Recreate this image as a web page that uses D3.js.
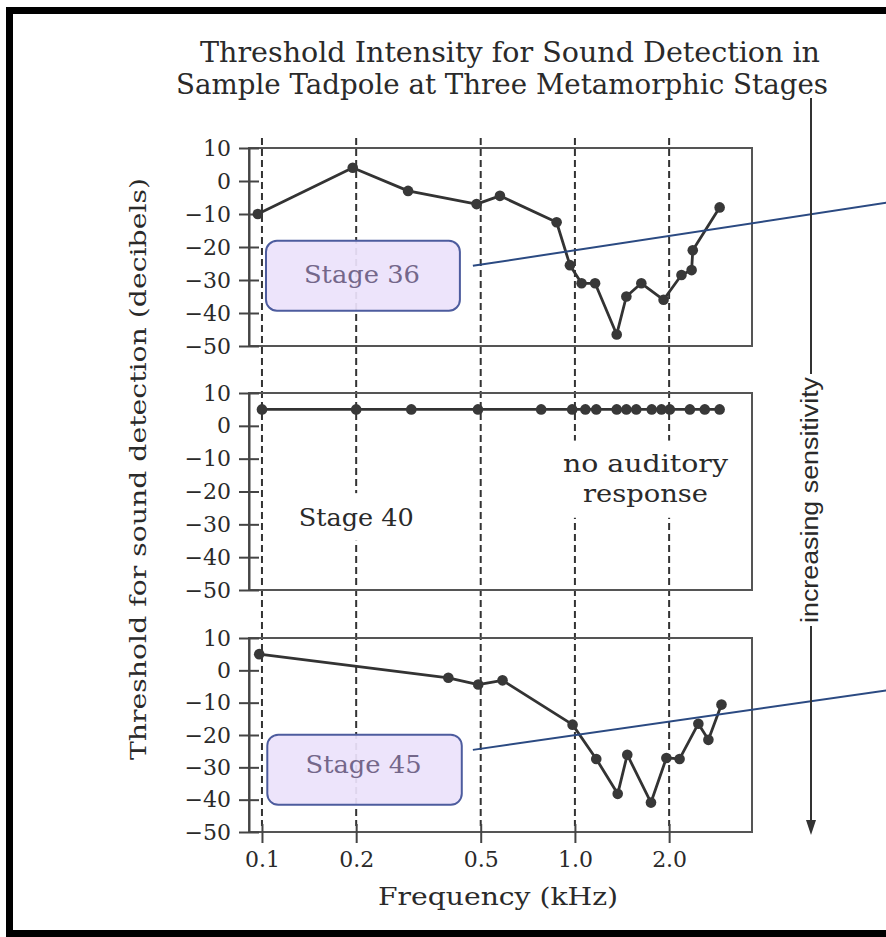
<!DOCTYPE html>
<html>
<head>
<meta charset="utf-8">
<script src="https://cdn.jsdelivr.net/npm/d3@7"></script>
<style>
  html, body { margin: 0; padding: 0; background: #fff; }
  svg { display: block; }
</style>
</head>
<body>
<script>
// ---------- data ----------
const titleLines = ["Threshold Intensity for Sound Detection in", "Sample Tadpole at Three Metamorphic Stages"];
const yAxisTitle = "Threshold for sound detection (decibels)";
const xAxisTitle = "Frequency (kHz)";
const sideLabel = "increasing sensitivity";

const xTicks = [0.1, 0.2, 0.5, 1.0, 2.0];
const xTickLabels = ["0.1", "0.2", "0.5", "1.0", "2.0"];
const yTicks = [10, 0, -10, -20, -30, -40, -50];
const yTickLabels = ["10", "0", "\u221210", "\u221220", "\u221230", "\u221240", "\u221250"];

const stageNames = ["Stage 36", "Stage 40", "Stage 45"];

const freq36 = [0.097, 0.195, 0.293, 0.485, 0.576, 0.874, 0.964, 1.05, 1.16, 1.36, 1.46, 1.63, 1.92, 2.19, 2.36, 2.38, 2.9];
const db36   = [-10, 4, -3, -7, -4.5, -12.5, -25.5, -31, -31, -46.5, -35, -31, -36, -28.5, -27, -21, -8];

const freq40 = [0.1, 0.2, 0.3, 0.49, 0.78, 0.98, 1.08, 1.17, 1.36, 1.46, 1.57, 1.76, 1.89, 2.01, 2.33, 2.6, 2.9];
const db40   = [5, 5, 5, 5, 5, 5, 5, 5, 5, 5, 5, 5, 5, 5, 5, 5, 5];

const freq45 = [0.098, 0.394, 0.491, 0.587, 0.983, 1.17, 1.37, 1.47, 1.75, 1.96, 2.16, 2.48, 2.67, 2.94];
const db45   = [5, -2.3, -4.4, -3.1, -16.8, -27.4, -38.2, -26.1, -40.9, -27.1, -27.4, -16.5, -21.5, -10.6];

const noResponseLines = ["no auditory", "response"];

// ---------- layout ----------
const W = 886, H = 937;
const serif = "'DejaVu Serif', 'Liberation Serif', serif";
const ink = "#2a2a2a";

const svg = d3.select("body").append("svg").attr("width", W).attr("height", H);
svg.append("rect").attr("width", W).attr("height", H).attr("fill", "#fff");

// outer frame (right side runs off the page)
svg.append("rect").attr("x", 9.5).attr("y", 10.5).attr("width", 900).attr("height", 923)
  .attr("fill", "none").attr("stroke", "#000").attr("stroke-width", 7);

const x = d3.scaleLog().domain([0.0909, 3.68]).range([249, 752]);
const panelRanges = [[346, 148], [590, 393], [832, 638]];
const ys = panelRanges.map(r => d3.scaleLinear().domain([-50, 10]).range(r));

function fit(sel, len) {
  sel.attr("textLength", len).attr("lengthAdjust", "spacingAndGlyphs");
  return sel;
}

// title
fit(svg.append("text").attr("x", 510).attr("y", 62).attr("text-anchor", "middle")
  .attr("font-family", serif).attr("font-size", 27).attr("fill", ink).text(titleLines[0]), 620);
fit(svg.append("text").attr("x", 502).attr("y", 94).attr("text-anchor", "middle")
  .attr("font-family", serif).attr("font-size", 27).attr("fill", ink).text(titleLines[1]), 652);

// dashed reference lines at the tick frequencies
svg.append("g").selectAll("line").data(xTicks).join("line")
  .attr("x1", d => x(d)).attr("x2", d => x(d))
  .attr("y1", 138).attr("y2", 826)
  .attr("stroke", "#333").attr("stroke-width", 2).attr("stroke-dasharray", "7,4");

// panel frames
ys.forEach(y => {
  svg.append("rect").attr("x", x.range()[0]).attr("y", y(10))
    .attr("width", x.range()[1] - x.range()[0]).attr("height", y(-50) - y(10))
    .attr("fill", "none").attr("stroke", "#555").attr("stroke-width", 2);
});

// left axes
ys.forEach(y => {
  const g = svg.append("g").attr("transform", `translate(${x.range()[0]},0)`)
    .call(d3.axisLeft(y).tickValues(yTicks).tickFormat((d, i) => yTickLabels[i])
      .tickSize(10).tickSizeOuter(0).tickPadding(8));
  g.select(".domain").attr("stroke", "#444").attr("stroke-width", 2);
  g.selectAll(".tick line").attr("x1", 10).attr("stroke", "#444").attr("stroke-width", 2);
  g.selectAll(".tick text").attr("font-family", serif).attr("font-size", 22).attr("fill", ink);
});

// bottom axis
const gx = svg.append("g").attr("transform", `translate(0,${panelRanges[2][0]})`)
  .call(d3.axisBottom(x).tickValues(xTicks).tickFormat((d, i) => xTickLabels[i])
    .tickSize(11).tickSizeOuter(0).tickPadding(8));
gx.select(".domain").remove();
gx.selectAll(".tick line").attr("y1", -8).attr("stroke", "#444").attr("stroke-width", 2);
gx.selectAll(".tick text").attr("font-family", serif).attr("font-size", 22).attr("fill", ink);

// axis titles
fit(svg.append("text").attr("transform", "translate(146,469) rotate(-90)")
  .attr("text-anchor", "middle").attr("font-family", serif).attr("font-size", 23)
  .attr("fill", ink).text(yAxisTitle), 582);
fit(svg.append("text").attr("x", 498).attr("y", 905).attr("text-anchor", "middle")
  .attr("font-family", serif).attr("font-size", 24).attr("fill", ink).text(xAxisTitle), 240);

// middle panel texts (with white backing that breaks the dashed lines)
const y2 = ys[1];
svg.append("rect").attr("x", x(0.128)).attr("y", y2(-20.5)).attr("width", x(0.44) - x(0.128))
  .attr("height", y2(-35) - y2(-20.5)).attr("fill", "#fff");
svg.append("rect").attr("x", x(0.92)).attr("y", y2(-4.5)).attr("width", x(3.3) - x(0.92))
  .attr("height", y2(-28) - y2(-4.5)).attr("fill", "#fff");
fit(svg.append("text").attr("x", x(0.2)).attr("y", y2(-30.5)).attr("text-anchor", "middle")
  .attr("font-family", serif).attr("font-size", 25).attr("fill", ink).text(stageNames[1]), 115);
fit(svg.append("text").attr("x", x(1.68)).attr("y", y2(-14)).attr("text-anchor", "middle")
  .attr("font-family", serif).attr("font-size", 24).attr("fill", ink).text(noResponseLines[0]), 165);
fit(svg.append("text").attr("x", x(1.68)).attr("y", y2(-23.2)).attr("text-anchor", "middle")
  .attr("font-family", serif).attr("font-size", 24).attr("fill", ink).text(noResponseLines[1]), 125);

// series
const series = [
  { f: freq36, v: db36, y: ys[0] },
  { f: freq40, v: db40, y: ys[1] },
  { f: freq45, v: db45, y: ys[2] }
];
series.forEach(s => {
  const pts = s.f.map((f, i) => ({ f, v: s.v[i] }));
  svg.append("path").datum(pts)
    .attr("d", d3.line().x(d => x(d.f)).y(d => s.y(d.v)))
    .attr("fill", "none").attr("stroke", "#333").attr("stroke-width", 2.8)
    .attr("stroke-linejoin", "round");
  svg.append("g").selectAll("circle").data(pts).join("circle")
    .attr("cx", d => x(d.f)).attr("cy", d => s.y(d.v)).attr("r", 5.3)
    .attr("fill", "#383838");
});

// callout boxes + pointer lines for stage 36 and stage 45
const callouts = [
  { y: ys[0], name: stageNames[0], box: [0.103, 0.429, -18.1, -39.3], lab: -31, line: [[0.472, -25.7], [9.9, -6.6]] },
  { y: ys[2], name: stageNames[2], box: [0.104, 0.435, -19.9, -41.6], lab: -31.6, line: [[0.472, -24.6], [9.9, -6.2]] }
];
callouts.forEach(c => {
  svg.append("rect").attr("x", x(c.box[0])).attr("y", c.y(c.box[2]))
    .attr("width", x(c.box[1]) - x(c.box[0])).attr("height", c.y(c.box[3]) - c.y(c.box[2]))
    .attr("rx", 11).attr("ry", 11)
    .attr("fill", "#ece2fb").attr("fill-opacity", 0.93)
    .attr("stroke", "#4d5c9e").attr("stroke-width", 2);
  fit(svg.append("text").attr("x", (x(c.box[0]) + x(c.box[1])) / 2 - 1).attr("y", c.y(c.lab))
    .attr("text-anchor", "middle").attr("font-family", serif).attr("font-size", 25)
    .attr("fill", "#74678a").text(c.name), 116);
  svg.append("line")
    .attr("x1", x(c.line[0][0])).attr("y1", c.y(c.line[0][1]))
    .attr("x2", x(c.line[1][0])).attr("y2", c.y(c.line[1][1]))
    .attr("stroke", "#2b4a82").attr("stroke-width", 2);
});

// "increasing sensitivity" arrow
const ax = 811;
svg.append("line").attr("x1", ax).attr("x2", ax).attr("y1", 98).attr("y2", 374)
  .attr("stroke", "#333").attr("stroke-width", 2);
svg.append("line").attr("x1", ax).attr("x2", ax).attr("y1", 626).attr("y2", 824)
  .attr("stroke", "#333").attr("stroke-width", 2);
svg.append("path").attr("d", `M${ax - 5},${820} L${ax + 5},${820} L${ax},${835} Z`).attr("fill", "#333");
fit(svg.append("text").attr("transform", `translate(${ax + 7},500) rotate(-90)`)
  .attr("text-anchor", "middle")
  .attr("font-family", "'Liberation Sans Narrow', 'Liberation Sans', 'Noto Sans', sans-serif")
  .attr("font-size", 23).attr("fill", ink).text(sideLabel), 246);
</script>
</body>
</html>
